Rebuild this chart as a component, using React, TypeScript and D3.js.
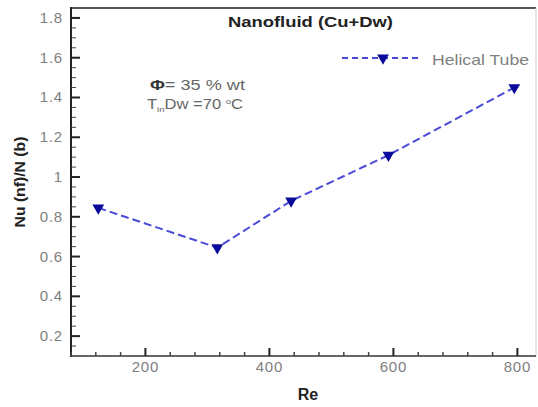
import React from "react";
import * as d3 from "d3";

// Reynolds number vs. Nusselt ratio for the helical tube
const reValues = [124, 316, 435, 592, 795];
const nuRatio = [0.845, 0.645, 0.88, 1.11, 1.45];
const seriesName = "Helical Tube";
const xTicks = [200, 400, 600, 800];
const yTicks = [0.2, 0.4, 0.6, 0.8, 1, 1.2, 1.4, 1.6, 1.8];

const W = 538;
const H = 407;
const margin = { left: 71, right: 2, top: 8, bottom: 51 };

export default function App() {
  const x = d3.scaleLinear().domain([80, 830]).range([margin.left, W - margin.right]);
  const y = d3.scaleLinear().domain([0.1, 1.85]).range([H - margin.bottom, margin.top]);

  const xMinor = d3.range(80, 831, 40).filter((v) => v % 200 !== 0);
  const yMinor = d3.range(0.15, 1.85, 0.05).filter((v) => Math.abs(v * 5 - Math.round(v * 5)) > 1e-6);

  const pts: [number, number][] = reValues.map((r, i) => [x(r), y(nuRatio[i])]);
  const line = d3.line()(pts) || "";
  const tri = d3.symbol().type(d3.symbolTriangle).size(60)() || "";

  const x0 = margin.left;
  const x1 = W - margin.right;
  const y0 = H - margin.bottom;
  const y1 = margin.top;
  const font = "Liberation Sans, Arial, sans-serif";
  const grey = "#808080";

  return (
    <svg
      width={W}
      height={H}
      style={{ position: "absolute", left: 0, top: 0, background: "#fff" }}
      fontFamily={font}
    >
      {/* frame */}
      <line x1={x0} x2={x1} y1={y1} y2={y1} stroke="#555" strokeWidth={2} />
      <line x1={x1} x2={x1} y1={y1} y2={y0} stroke="#ccc" strokeWidth={1} />
      <line x1={x0} x2={x0} y1={y1 - 1} y2={y0 + 1} stroke="#222" strokeWidth={2} />
      <line x1={x0} x2={x1} y1={y0} y2={y0} stroke="#333" strokeWidth={1.6} />

      {/* y ticks */}
      {yTicks.map((t) => (
        <g key={"y" + t}>
          <line x1={x0} x2={x0 + 9} y1={y(t)} y2={y(t)} stroke="#222" strokeWidth={2} />
          <text x={x0 - 8} y={y(t) + 5} textAnchor="end" fontSize={15} letterSpacing={0.8} fill={grey}>
            {t === 1 ? "1" : t.toFixed(1)}
          </text>
        </g>
      ))}
      {yMinor.map((t) => (
        <line key={"ym" + t} x1={x0} x2={x0 + 5} y1={y(t)} y2={y(t)} stroke="#444" strokeWidth={1} />
      ))}

      {/* x ticks */}
      {xTicks.map((t) => (
        <g key={"x" + t}>
          <line x1={x(t)} x2={x(t)} y1={y0} y2={y0 - 8} stroke="#222" strokeWidth={2} />
          <text x={x(t)} y={y0 + 16} textAnchor="middle" fontSize={15} letterSpacing={0.8} fill={grey}>
            {t}
          </text>
        </g>
      ))}
      {xMinor.map((t) => (
        <line key={"xm" + t} x1={x(t)} x2={x(t)} y1={y0} y2={y0 - 4} stroke="#444" strokeWidth={1.5} />
      ))}

      {/* series */}
      <path d={line} fill="none" stroke="#4a4ad8" strokeWidth={2} strokeDasharray="8,4" />
      {pts.map(([px, py], i) => (
        <path key={"m" + i} d={tri} transform={`translate(${px},${py}) rotate(180)`} fill="#0a0a9a" />
      ))}

      {/* legend */}
      <line x1={342} x2={418} y1={58} y2={58} stroke="#4a4ad8" strokeWidth={2} strokeDasharray="6,4" />
      <path d={tri} transform={`translate(383,58) rotate(180)`} fill="#0a0a9a" />
      <text x={432} y={65} fontSize={15} fill={grey} textLength={97} lengthAdjust="spacingAndGlyphs">
        {seriesName}
      </text>

      {/* title */}
      <text x={228} y={27} fontSize={15} fontWeight="bold" fill="#222" textLength={165} lengthAdjust="spacingAndGlyphs">
        Nanofluid (Cu+Dw)
      </text>

      {/* annotations */}
      <text x={150} y={90} fontSize={14} fill="#666" textLength={95} lengthAdjust="spacingAndGlyphs">
        <tspan fontWeight="bold" fill="#333">Φ</tspan>= 35 % wt
      </text>
      <text x={147} y={109} fontSize={14} fill="#666" textLength={96} lengthAdjust="spacingAndGlyphs">
        T<tspan fontSize={8} dy={3}>in</tspan>
        <tspan dy={-3}>Dw =70 </tspan>
        <tspan fontSize={8} dy={-5}>o</tspan>
        <tspan dy={5}>C</tspan>
      </text>

      {/* axis titles */}
      <text x={308} y={400} textAnchor="middle" fontSize={16} fontWeight="bold" fill="#222">
        Re
      </text>
      <text
        transform={`translate(25,182) rotate(-90)`}
        textAnchor="middle"
        fontSize={15}
        fontWeight="bold"
        fill="#222"
        textLength={91}
        lengthAdjust="spacingAndGlyphs"
      >
        Nu (nf)/N (b)
      </text>
    </svg>
  );
}
